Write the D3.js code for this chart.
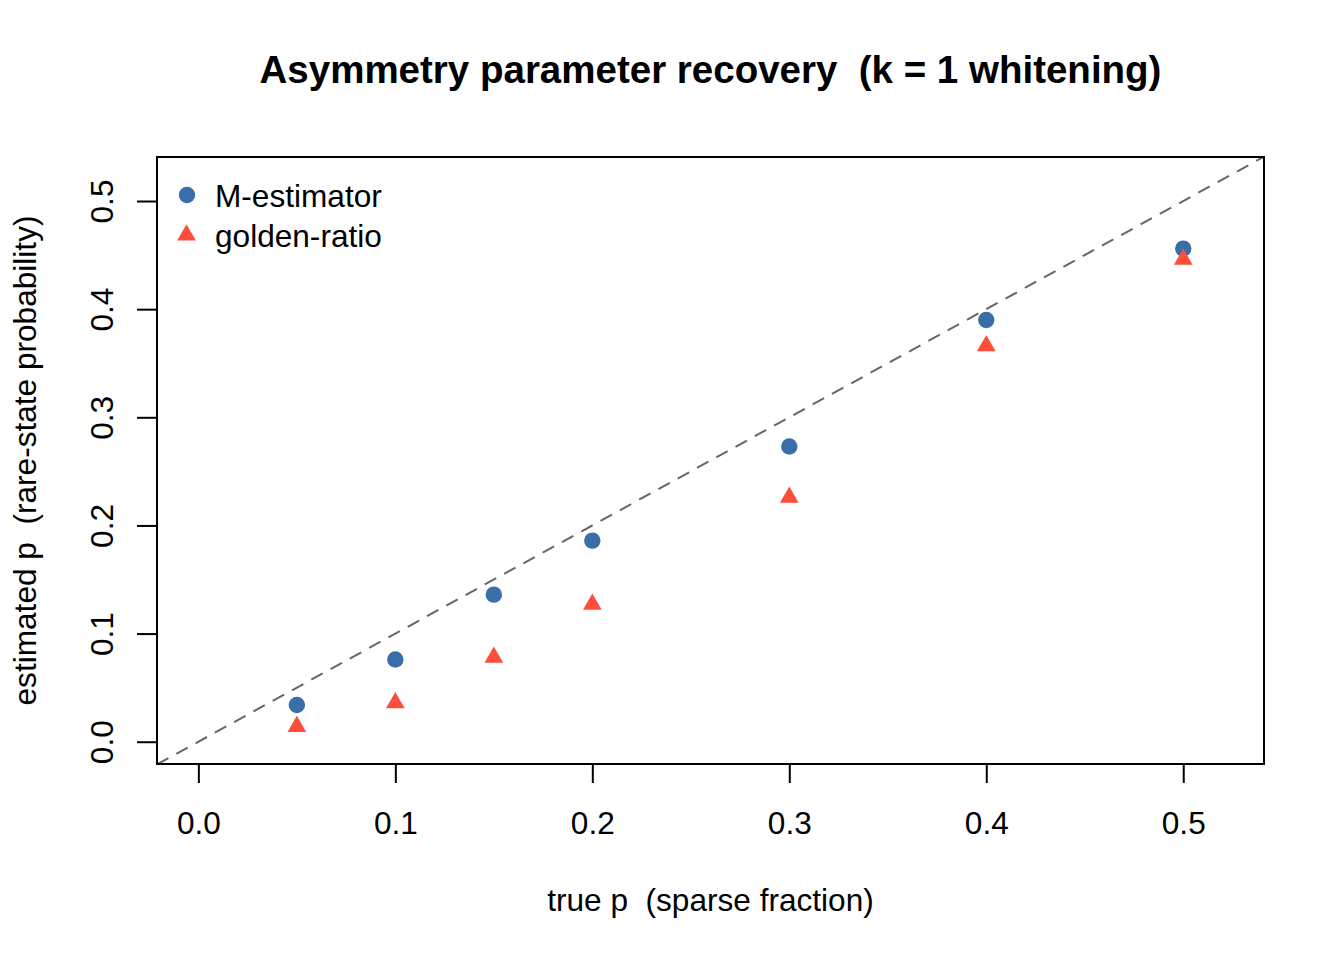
<!DOCTYPE html>
<html>
<head>
<meta charset="utf-8">
<script src="https://cdn.jsdelivr.net/npm/d3@7"></script>
<style>
	body { margin: 0; background: #fff; }
	svg text { font-family: "Liberation Sans", Arial, Helvetica, sans-serif; fill: #000; white-space: pre; }
</style>
</head>
<body>
<svg id="chart" width="1344" height="960"></svg>
<script>
// values
var trueP = [0.05, 0.1, 0.15, 0.2, 0.3, 0.4, 0.5];
var mEstimator = [0.034, 0.076, 0.136, 0.186, 0.273, 0.390, 0.456];
var goldenRatio = [0.014, 0.036, 0.078, 0.127, 0.226, 0.366, 0.446];
var tickValues = [0, 0.1, 0.2, 0.3, 0.4, 0.5];
var seriesNames = ["M-estimator", "golden-ratio"];

var blueColor = "#3A6EA8",
	redColor = "#FC4E3A",
	refColor = "#666666";

var plotLeft = 157, plotRight = 1264, plotTop = 157, plotBottom = 764;
var baseFont = 31.6;

var svg = d3.select("#chart");

var x = d3.scaleLinear().domain([-0.021, 0.541]).range([plotLeft, plotRight]);
var y = d3.scaleLinear().domain([-0.0206, 0.5407]).range([plotBottom, plotTop]);

// R style filled triangle (pch 17), centred on cx,cy
function triangle(cx, cy, s){
	var r = 1.5551 * s, xc = 1.3468 * s, yc = 0.7776 * s;
	return "M" + cx + "," + (cy - r) +
		"L" + (cx + xc) + "," + (cy + yc) +
		"L" + (cx - xc) + "," + (cy + yc) + "Z";
}
var triSize = 6.95, dotRadius = 8.2;

svg.append("clipPath").attr("id", "plot-clip")
	.append("rect")
	.attr("x", plotLeft).attr("y", plotTop)
	.attr("width", plotRight - plotLeft).attr("height", plotBottom - plotTop);

// identity reference line
var xd = x.domain();
svg.append("line")
	.attr("clip-path", "url(#plot-clip)")
	.attr("x1", x(xd[0])).attr("y1", y(xd[0]))
	.attr("x2", x(xd[1])).attr("y2", y(xd[1]))
	.attr("stroke", refColor)
	.attr("stroke-width", 2)
	.attr("stroke-dasharray", "13,9");

// points
var pts = trueP.map(function(p, i){ return {p: p, m: mEstimator[i], g: goldenRatio[i]}; });

svg.selectAll(".m-dot").data(pts).enter()
	.append("circle")
	.attr("class", "m-dot")
	.attr("cx", function(d){ return x(d.p); })
	.attr("cy", function(d){ return y(d.m); })
	.attr("r", dotRadius)
	.attr("fill", blueColor);

svg.selectAll(".g-tri").data(pts).enter()
	.append("path")
	.attr("class", "g-tri")
	.attr("d", function(d){ return triangle(x(d.p), y(d.g), triSize); })
	.attr("fill", redColor);

// axes
var xAxis = svg.append("g")
	.attr("transform", "translate(0," + plotBottom + ")")
	.call(d3.axisBottom(x).tickValues(tickValues).tickSize(19).tickSizeOuter(0)
		.tickFormat(d3.format(".1f")));
xAxis.select(".domain").remove();
xAxis.selectAll(".tick line").attr("stroke", "#000").attr("stroke-width", 2);
xAxis.selectAll(".tick text")
	.attr("y", 70).attr("dy", 0)
	.attr("font-size", baseFont);
xAxis.append("line")
	.attr("x1", x(0)).attr("x2", x(0.5))
	.attr("stroke", "#000").attr("stroke-width", 2);

var yAxis = svg.append("g")
	.attr("transform", "translate(" + plotLeft + ",0)")
	.call(d3.axisLeft(y).tickValues(tickValues).tickSize(20).tickSizeOuter(0)
		.tickFormat(d3.format(".1f")));
yAxis.select(".domain").remove();
yAxis.selectAll(".tick line").attr("stroke", "#000").attr("stroke-width", 2);
yAxis.selectAll(".tick text")
	.attr("x", 0).attr("y", 0).attr("dy", 0)
	.attr("text-anchor", "middle")
	.attr("transform", "translate(-44,0) rotate(-90)")
	.attr("font-size", baseFont);

// box
svg.append("rect")
	.attr("x", plotLeft).attr("y", plotTop)
	.attr("width", plotRight - plotLeft).attr("height", plotBottom - plotTop)
	.attr("fill", "none")
	.attr("stroke", "#000")
	.attr("stroke-width", 2);

// titles
svg.append("text")
	.attr("x", (plotLeft + plotRight) / 2).attr("y", 83)
	.attr("text-anchor", "middle")
	.attr("font-size", 38.5)
	.attr("font-weight", "bold")
	.text("Asymmetry parameter recovery  (k = 1 whitening)");

svg.append("text")
	.attr("x", (plotLeft + plotRight) / 2).attr("y", 911)
	.attr("text-anchor", "middle")
	.attr("font-size", baseFont)
	.text("true p  (sparse fraction)");

svg.append("text")
	.attr("transform", "translate(36," + ((plotTop + plotBottom) / 2) + ") rotate(-90)")
	.attr("text-anchor", "middle")
	.attr("font-size", baseFont)
	.text("estimated p  (rare-state probability)");

// legend
var legend = svg.selectAll(".legend").data(seriesNames).enter()
	.append("g")
	.attr("class", "legend")
	.attr("transform", function(d, i){ return "translate(0," + (195 + i * 40) + ")"; });

legend.each(function(d, i){
	var g = d3.select(this);
	if(i == 0){
		g.append("circle").attr("cx", 187).attr("cy", 0).attr("r", dotRadius).attr("fill", blueColor);
	}else{
		g.append("path").attr("d", triangle(186.5, 0, triSize)).attr("fill", redColor);
	}
	g.append("text")
		.attr("x", 215).attr("y", 11.5)
		.attr("font-size", baseFont)
		.text(d);
});
</script>
</body>
</html>
